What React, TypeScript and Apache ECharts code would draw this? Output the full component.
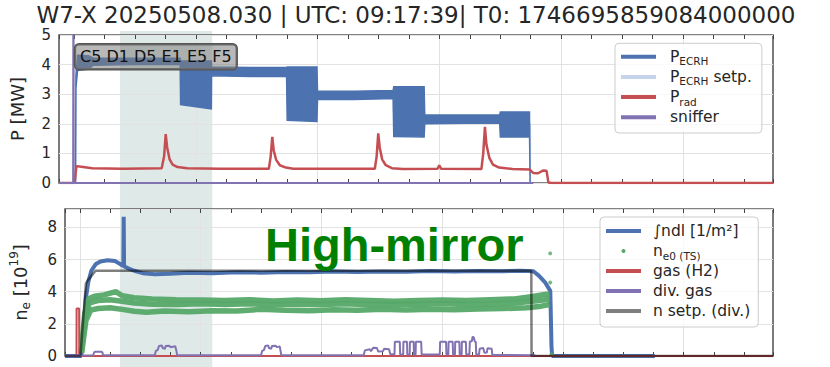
import React, { useEffect, useRef } from 'react';
import * as echarts from 'echarts';

// ---------- texts ----------
const TITLE = 'W7-X 20250508.030 | UTC: 09:17:39| T0: 1746695859084000000';
const PORTS_LABEL = 'C5 D1 D5 E1 E5 F5';
const CONFIG_LABEL = 'High-mirror';

// ---------- axes ----------
const T_MIN = -1.23;
const T_MAX = 57.39;
const T_MINOR = 2.5;
const T_MAJOR = 10;
const SHADE_T = [3.78, 11.35];
const P_MAX = 5;
const P_STEP = 1;
const NE_MAX = 9.14;
const NE_STEP = 2;

// ---------- top panel: P [MW] ----------
// P_ECRH envelope (modulated blocks drawn as lower/upper envelope)
const ECRH_T = [-1.23, 0.12, 0.16, 0.3, 1.2, 1.6, 5.0, 8.72, 8.75, 11.28, 11.3, 14.5, 17.45, 17.5, 19.95, 20.0, 23.0, 26.2, 26.25, 28.75, 28.8, 32.0, 34.95, 35.0, 37.4, 37.45, 37.7];
const ECRH_LO = [0, 0, 3.2, 3.8, 3.85, 3.98, 4.0, 4.0, 2.65, 2.5, 3.62, 3.6, 3.6, 2.12, 2.08, 2.82, 2.82, 2.85, 1.57, 1.55, 2.0, 2.02, 2.02, 1.55, 1.55, 0, 0];
const ECRH_HI = [0, 0, 3.6, 4.32, 4.3, 4.22, 4.22, 4.22, 4.12, 4.12, 3.92, 3.9, 3.9, 3.92, 3.92, 3.1, 3.1, 3.13, 3.25, 3.25, 2.3, 2.3, 2.3, 2.4, 2.4, 0, 0];

// P_ECRH setpoint (step)
const SETP_T = [-1.23, 0.15, 8.75, 11.25, 17.5, 20.0, 26.25, 28.75, 35.0, 37.45, 37.7];
const SETP_V = [0, 4.1, 3.3, 3.75, 3.0, 2.95, 2.4, 2.15, 2.0, 0, 0];

// P_rad
const PRAD_T = [-1.23, 0.05, 0.2, 0.6, 1.5, 4.0, 7.2, 7.4, 7.53, 7.65, 7.85, 8.1, 8.5, 9.3, 12.0, 16.0, 16.15, 16.28, 16.4, 16.6, 16.9, 17.4, 18.0, 24.7, 24.85, 24.98, 25.1, 25.3, 25.6, 26.1, 27.0, 29.85, 29.99, 30.15, 33.45, 33.6, 33.74, 33.86, 34.1, 34.4, 34.9, 36.0, 37.4, 37.7, 38.1, 38.5, 38.8, 38.95, 39.2, 57.39];
const PRAD_V = [0, 0, 0.57, 0.55, 0.5, 0.48, 0.5, 0.9, 1.65, 1.2, 0.8, 0.62, 0.54, 0.5, 0.48, 0.48, 0.9, 1.56, 1.1, 0.78, 0.6, 0.52, 0.48, 0.48, 0.9, 1.68, 1.2, 0.8, 0.6, 0.5, 0.47, 0.48, 0.6, 0.48, 0.47, 1.0, 1.9, 1.3, 0.85, 0.62, 0.52, 0.47, 0.46, 0.34, 0.33, 0.42, 0.41, 0.02, 0, 0];

// sniffer
const SNIFF_T = [-1.23, -0.07, -0.05, -0.03, 37.7];
const SNIFF_V = [0, 0, 7, 0, 0];

// ---------- bottom panel: n_e [10^19] ----------
const NDL_T = [-1.23, 0.12, 0.3, 0.5, 0.7, 0.95, 1.3, 1.7, 2.3, 2.9, 3.3, 3.6, 3.63, 3.66, 4.0, 4.5, 5.2, 6.2, 7.5, 9.0, 11, 13, 15, 17, 19, 21, 23, 25, 27, 29, 31, 33, 35, 36.5, 37.55, 38.0, 38.5, 38.95, 39.05, 39.1, 47.6];
const NDL_V = [0, 0, 1.8, 3.6, 4.6, 5.3, 5.7, 5.88, 5.95, 5.9, 5.74, 5.6, 8.65, 5.58, 5.45, 5.3, 5.15, 5.08, 5.12, 5.18, 5.15, 5.2, 5.18, 5.22, 5.2, 5.25, 5.22, 5.26, 5.24, 5.28, 5.25, 5.28, 5.27, 5.3, 5.27, 5.0, 4.6, 4.05, 0.6, 0, 0];

const TS_A_T = [0.1, 0.4, 0.7, 1.2, 2.0, 2.6, 3.0, 3.5, 4.5, 6, 8, 10, 12, 14, 16, 18, 20, 22, 24, 26, 28, 30, 32, 34, 36, 37.5, 38.5, 38.9];
const TS_A_V = [0.2, 2.6, 3.55, 3.72, 3.8, 3.92, 4.0, 3.75, 3.62, 3.55, 3.5, 3.48, 3.45, 3.5, 3.42, 3.48, 3.44, 3.5, 3.45, 3.4, 3.45, 3.48, 3.45, 3.5, 3.55, 3.7, 3.82, 3.85];
const TS_B_T = [0.12, 0.45, 0.8, 1.5, 2.5, 3.5, 4.5, 6, 8, 10, 12, 14, 16, 18, 20, 22, 24, 26, 28, 30, 32, 34, 36, 37.5, 38.5, 38.9];
const TS_B_V = [0.2, 2.4, 3.3, 3.45, 3.5, 3.4, 3.3, 3.22, 3.2, 3.25, 3.2, 3.25, 3.18, 3.22, 3.2, 3.25, 3.18, 3.22, 3.2, 3.25, 3.2, 3.22, 3.3, 3.4, 3.5, 3.55];
const TS_C_T = [0.15, 0.5, 0.9, 1.5, 2.5, 3.5, 4.5, 5.5, 7, 9, 11, 13, 15, 17, 19, 21, 23, 25, 27, 29, 31, 33, 35, 37, 38.2, 38.9];
const TS_C_V = [0.2, 2.2, 2.85, 2.95, 3.0, 2.9, 2.78, 2.72, 2.8, 2.75, 2.82, 2.8, 2.9, 2.85, 2.82, 2.88, 2.85, 2.9, 2.86, 2.9, 2.88, 2.92, 2.95, 3.0, 3.1, 3.2];
const TS_DOT_T = [38.94, 38.94, 39.05];
const TS_DOT_V = [6.38, 4.57, 0.1];

const GAS_T = [-1.23, -0.28, -0.27, -0.06, -0.05, 57.39];
const GAS_V = [0, 0, 2.96, 2.96, 0, 0];

const DIV_T = [-1.23, 1.1, 1.18, 1.25, 1.8, 1.87, 1.92,
  6.2, 6.3, 6.45, 6.55, 6.8, 6.85, 7.05, 7.1, 7.4, 7.5, 7.9, 8.0, 8.05,
  15.0, 15.1, 15.25, 15.35, 15.6, 15.65, 15.85, 15.9, 16.2, 16.3, 16.55, 16.62, 16.68,
  23.5, 23.6, 24.0, 24.1, 24.3, 24.6, 24.7, 25.1, 25.2, 25.6, 25.7, 26.05,
  26.08, 26.49, 26.52, 26.77, 26.79, 27.09, 27.11, 27.31, 27.33, 27.64, 27.66, 27.8, 27.82, 28.26, 28.3,
  29.8, 29.83, 30.32, 30.35, 30.51, 30.53, 30.87, 30.9, 31.06, 31.08, 31.42, 31.45, 31.61, 31.63, 31.96, 31.99,
  32.25, 32.29, 32.45, 32.52, 32.62, 32.7, 32.78, 32.82,
  33.05, 33.1, 33.4, 33.5, 33.7, 33.75, 34.1, 34.15, 37.7];
const DIV_V = [0.02, 0.04, 0.22, 0.27, 0.27, 0.22, 0.05,
  0.05, 0.32, 0.38, 0.62, 0.65, 0.5, 0.45, 0.62, 0.64, 0.55, 0.6, 0.3, 0.05,
  0.05, 0.32, 0.38, 0.62, 0.66, 0.5, 0.45, 0.62, 0.64, 0.55, 0.6, 0.3, 0.05,
  0.05, 0.35, 0.42, 0.3, 0.52, 0.5, 0.28, 0.3, 0.45, 0.42, 0.12, 0.1,
  0.89, 0.89, 0.1, 0.1, 0.89, 0.89, 0.1, 0.1, 0.89, 0.89, 0.1, 0.1, 0.89, 0.89, 0.1,
  0.1, 0.89, 0.89, 0.1, 0.1, 0.89, 0.89, 0.1, 0.1, 0.89, 0.89, 0.1, 0.1, 0.89, 0.89, 0.1,
  0.1, 0.9, 0.92, 1.2, 1.15, 0.9, 0.88, 0.1,
  0.1, 0.45, 0.5, 0.2, 0.22, 0.48, 0.45, 0.06, 0.05];

const NSETP_T = [-1.23, 0.05, 0.5, 0.65, 1.3, 37.38, 37.4, 57.39];
const NSETP_V = [0, 0, 4.5, 4.7, 5.3, 5.3, 0, 0];

// ---------- colours ----------
const BLUE = '#4c72b0';
const LIGHT_BLUE = '#c5d4ea';
const RED = '#c44e52';
const PURPLE = '#8172b2';
const GREEN = '#55a868';
const SETP_GREY = 'rgba(0,0,0,0.5)';
const TEXT = '#262626';
const FONT = 'DejaVu Sans';

const GRID_LEFT = 59;
const GRID_W = 714;
const GRID1_TOP = 35;
const GRID1_H = 148;
const GRID2_TOP = 209;
const GRID2_H = 147;

const pts = (t: number[], v: number[]) => t.map((x, i) => [x, v[i]]);

const TOP_LABELS: Record<string, string> = {
  P_ECRH: '{g| }{m|P}{s|ECRH}',
  'P_ECRH setp.': '{g| }{m|P}{s|ECRH}{m| setp.}',
  P_rad: '{g| }{m|P}{s|rad}',
  sniffer: '{g| }{m|sniffer}',
};
const BOTTOM_LABELS: Record<string, string> = {
  ndl: '{g| }{m|∫ndl [1/m²]}',
  ne0: '{g| }{m|n}{s|e0 (TS)}',
  'gas (H2)': '{g| }{m|gas (H2)}',
  'div. gas': '{g| }{m|div. gas}',
  'n setp. (div.)': '{g| }{m|n setp. (div.)}',
};

function legendRich(gap: number) {
  return {
    g: { width: gap, fontSize: 15.5, fontFamily: FONT, lineHeight: 20 },
    m: { fontSize: 15.5, fontFamily: FONT, color: TEXT, lineHeight: 20 },
    s: { fontSize: 10.5, fontFamily: FONT, color: TEXT, lineHeight: 12, verticalAlign: 'bottom' },
  };
}

function xAxesFor(gridIndex: number) {
  const base = {
    type: 'value',
    gridIndex,
    min: T_MIN,
    max: T_MAX,
    axisLabel: { show: false },
    axisLine: { show: false, onZero: false },
  };
  const tick = { show: true, inside: true, length: 4, lineStyle: { color: '#444', width: 1 } };
  return [
    { ...base, position: 'bottom', minInterval: T_MINOR, maxInterval: T_MINOR, axisTick: tick, splitLine: { show: false } },
    { ...base, position: 'top', minInterval: T_MINOR, maxInterval: T_MINOR, axisTick: tick, splitLine: { show: false } },
    {
      ...base, position: 'bottom', minInterval: T_MAJOR, maxInterval: T_MAJOR, axisTick: { show: false },
      splitLine: { show: true, showMinLine: false, showMaxLine: false, lineStyle: { color: '#e2e2e2', width: 1 } },
    },
  ];
}

function lineSeries(name: string, data: number[][], color: string, width: number, xi: number, yi: number, z: number, extra: any = {}) {
  return {
    type: 'line', name, data, xAxisIndex: xi, yAxisIndex: yi, z,
    symbol: 'none', showSymbol: false, silent: true, clip: true,
    color, itemStyle: { color }, lineStyle: { color, width },
    emphasis: { disabled: true },
    ...extra,
  };
}

export default function App() {
  const ref = useRef<HTMLDivElement>(null);
  useEffect(() => {
    if (!ref.current) return;
    const chart = echarts.init(ref.current, null, { renderer: 'svg' });
    const yLabel = { color: TEXT, fontSize: 15, fontFamily: FONT, margin: 8 };
    const ySplit = { show: true, lineStyle: { color: '#e2e2e2', width: 1 } };
    const greenLine = { lineStyle: { color: GREEN, width: 5.5, opacity: 0.95 } };

    const option: any = {
      animation: false,
      backgroundColor: '#ffffff',
      grid: [
        { left: GRID_LEFT, top: GRID1_TOP, width: GRID_W, height: GRID1_H, show: true, borderColor: '#5a5a5a', borderWidth: 1.6, backgroundColor: 'transparent' },
        { left: GRID_LEFT, top: GRID2_TOP, width: GRID_W, height: GRID2_H, show: true, borderColor: '#5a5a5a', borderWidth: 1.6, backgroundColor: 'transparent' },
      ],
      xAxis: [...xAxesFor(0), ...xAxesFor(1)],
      yAxis: [
        {
          type: 'value', gridIndex: 0, min: 0, max: P_MAX, interval: P_STEP,
          axisLabel: yLabel, axisLine: { show: false, onZero: false }, axisTick: { show: false }, splitLine: ySplit,
          name: 'P [MW]', nameLocation: 'middle', nameGap: 33,
          nameTextStyle: { fontSize: 18, fontFamily: FONT, color: TEXT },
        },
        {
          type: 'value', gridIndex: 1, min: 0, max: NE_MAX, interval: NE_STEP,
          axisLabel: { ...yLabel, showMaxLabel: false }, axisLine: { show: false, onZero: false }, axisTick: { show: false }, splitLine: ySplit,
          name: '{m|n}{s|e}{m| [10}{p|19}{m|]}', nameLocation: 'middle', nameGap: 33,
          nameTextStyle: {
            fontSize: 18, fontFamily: FONT, color: TEXT,
            rich: {
              m: { fontSize: 18, fontFamily: FONT, color: TEXT, lineHeight: 24 },
              s: { fontSize: 12, fontFamily: FONT, color: TEXT, lineHeight: 12, verticalAlign: 'bottom' },
              p: { fontSize: 12, fontFamily: FONT, color: TEXT, lineHeight: 12, verticalAlign: 'top' },
            },
          },
        },
      ],
      legend: [
        {
          orient: 'vertical', left: 615, top: 43.3, itemWidth: 35, itemHeight: 4, itemGap: 0.2,
          padding: [3.4, 10, 5.7, 6], backgroundColor: 'rgba(255,255,255,0.8)', borderColor: '#cccccc',
          borderWidth: 1, borderRadius: 4, selectedMode: false, z: 20,
          data: [
            { name: 'P_ECRH', icon: 'rect', itemStyle: { color: BLUE } },
            { name: 'P_ECRH setp.', icon: 'rect', itemStyle: { color: LIGHT_BLUE } },
            { name: 'P_rad', icon: 'rect', itemStyle: { color: RED } },
            { name: 'sniffer', icon: 'rect', itemStyle: { color: PURPLE } },
          ],
          formatter: (n: string) => TOP_LABELS[n] || n,
          textStyle: { fontSize: 15.5, fontFamily: FONT, color: TEXT, lineHeight: 20, rich: legendRich(9) },
        },
        {
          orient: 'vertical', left: 600, top: 217, itemWidth: 35, itemHeight: 4, itemGap: 0,
          padding: [4, 8, 6, 6], backgroundColor: 'rgba(255,255,255,0.8)', borderColor: '#cccccc',
          borderWidth: 1, borderRadius: 4, selectedMode: false, z: 20,
          data: [
            { name: 'ndl', icon: 'rect', itemStyle: { color: BLUE } },
            { name: 'ne0', icon: 'circle', itemStyle: { color: GREEN } },
            { name: 'gas (H2)', icon: 'rect', itemStyle: { color: RED } },
            { name: 'div. gas', icon: 'rect', itemStyle: { color: PURPLE } },
            { name: 'n setp. (div.)', icon: 'rect', itemStyle: { color: SETP_GREY } },
          ],
          formatter: (n: string) => BOTTOM_LABELS[n] || n,
          textStyle: { fontSize: 15.5, fontFamily: FONT, color: TEXT, lineHeight: 20, rich: legendRich(7) },
        },
      ],
      series: [
        // top panel
        lineSeries('P_ECRH setp.', pts(SETP_T, SETP_V), LIGHT_BLUE, 2, 0, 0, 1, { step: 'end' }),
        {
          type: 'custom', name: 'P_ECRH', xAxisIndex: 0, yAxisIndex: 0, silent: true, z: 3,
          data: ECRH_T.map((t, i) => [t, ECRH_LO[i], ECRH_HI[i]]),
          encode: { x: 0, y: [1, 2] },
          itemStyle: { color: BLUE },
          renderItem: (params: any, api: any) => {
            if (params.dataIndex !== 0) return null;
            const upper = ECRH_T.map((t, i) => api.coord([t, ECRH_HI[i]]));
            const lower = ECRH_T.map((t, i) => api.coord([t, ECRH_LO[i]])).reverse();
            return {
              type: 'polygon',
              shape: { points: upper.concat(lower) },
              style: { fill: BLUE, stroke: BLUE, lineWidth: 1.4 },
            };
          },
        },
        lineSeries('P_rad', pts(PRAD_T, PRAD_V), RED, 2.5, 0, 0, 4),
        lineSeries('sniffer', pts(SNIFF_T, SNIFF_V), PURPLE, 2, 0, 0, 5),
        // bottom panel
        lineSeries('ndl', pts(NDL_T, NDL_V), BLUE, 4, 3, 1, 2),
        lineSeries('ne0', pts(TS_A_T, TS_A_V), GREEN, 5.5, 3, 1, 3, greenLine),
        lineSeries('ne0', pts(TS_B_T, TS_B_V), GREEN, 5.5, 3, 1, 3, greenLine),
        lineSeries('ne0', pts(TS_C_T, TS_C_V), GREEN, 5.5, 3, 1, 3, greenLine),
        {
          type: 'scatter', name: 'ne0', data: pts(TS_DOT_T, TS_DOT_V), xAxisIndex: 3, yAxisIndex: 1, z: 3,
          symbol: 'circle', symbolSize: 4, itemStyle: { color: GREEN }, silent: true, emphasis: { disabled: true },
        },
        lineSeries('gas (H2)', pts(GAS_T, GAS_V), RED, 2, 3, 1, 4),
        lineSeries('div. gas', pts(DIV_T, DIV_V), PURPLE, 2, 3, 1, 5),
        lineSeries('n setp. (div.)', pts(NSETP_T, NSETP_V), SETP_GREY, 2.5, 3, 1, 6),
      ],
    };
    chart.setOption(option);

    const x0 = chart.convertToPixel({ xAxisIndex: 0 }, SHADE_T[0]) as number;
    const x1 = chart.convertToPixel({ xAxisIndex: 0 }, SHADE_T[1]) as number;
    chart.setOption({
      graphic: [
        {
          id: 'shade', type: 'rect', z: -10, silent: true,
          shape: { x: x0, y: GRID1_TOP - 4, width: x1 - x0, height: 367 - (GRID1_TOP - 4) },
          style: { fill: '#dfe9e7' },
        },
        {
          id: 'title', type: 'text', z: 10, silent: true,
          style: {
            text: TITLE, x: 416, y: 15, align: 'center', verticalAlign: 'middle',
            textAlign: 'center', textVerticalAlign: 'middle',
            fontSize: 23, fontFamily: FONT, fill: TEXT,
          },
        },
        {
          id: 'ports', type: 'text', z: 10, silent: true,
          style: {
            text: PORTS_LABEL, x: 75, y: 44.3, align: 'left', verticalAlign: 'top',
            textAlign: 'left', textVerticalAlign: 'top',
            fontSize: 16, fontFamily: FONT, fill: '#111111', lineHeight: 17,
            backgroundColor: 'rgba(128,128,128,0.55)', borderColor: '#555555', borderWidth: 1.2,
            borderRadius: 4, padding: [4, 5, 4, 5],
          },
        },
        {
          id: 'config', type: 'text', z: 10, silent: true,
          style: {
            text: CONFIG_LABEL, x: 265, y: 244, align: 'left', verticalAlign: 'middle',
            textAlign: 'left', textVerticalAlign: 'middle',
            fontSize: 47, fontWeight: 'bold', fontFamily: 'Liberation Sans', fill: '#008000',
          },
        },
      ],
    });
    return () => chart.dispose();
  }, []);
  return <div ref={ref} style={{ position: 'fixed', left: 0, top: 0, width: 830, height: 367 }} />;
}
